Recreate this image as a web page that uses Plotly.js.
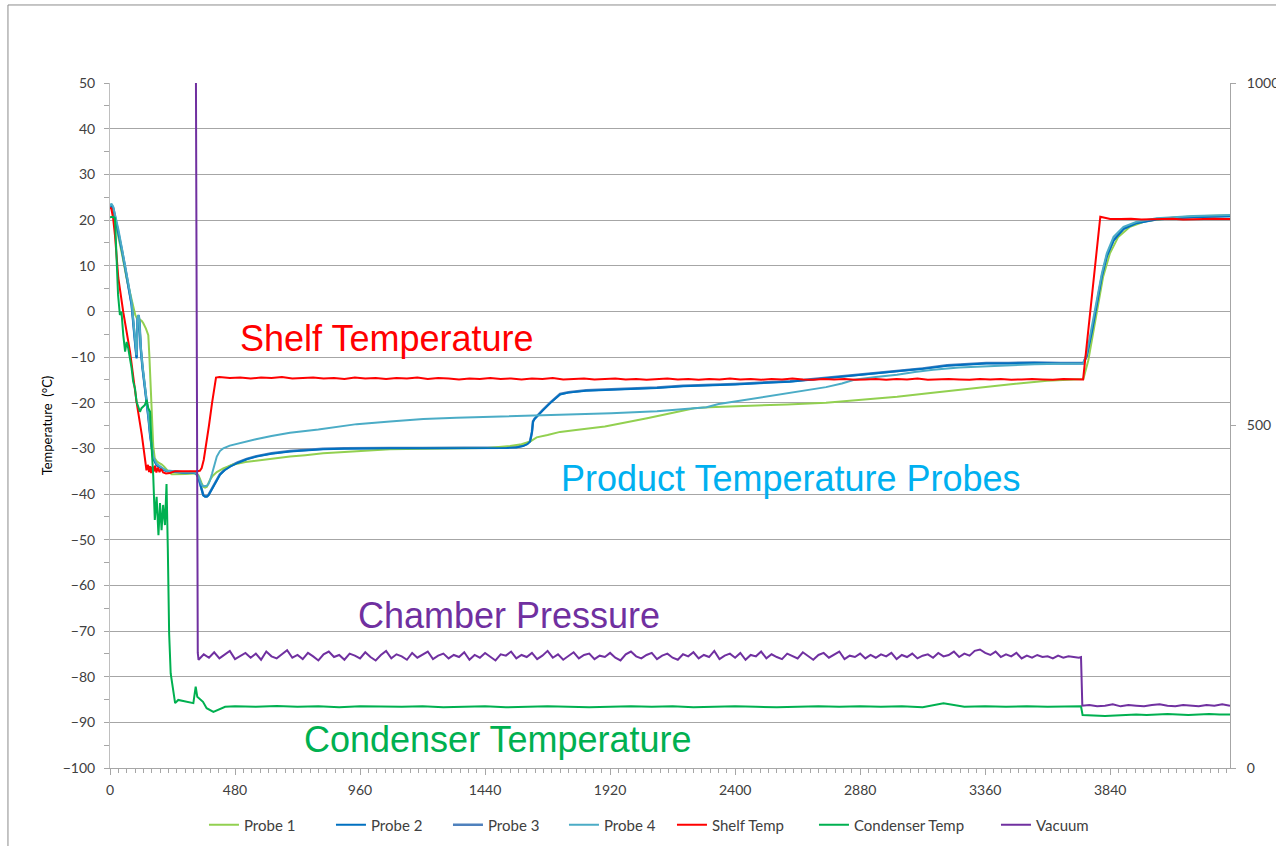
<!DOCTYPE html>
<html>
<head>
<meta charset="utf-8">
<script src="https://cdn.plot.ly/plotly-3.0.1.min.js"></script>
<style>
html,body{margin:0;padding:0;background:#fff;}
#chart{width:1276px;height:846px;}
</style>
</head>
<body>
<div id="chart"></div>
<script>
// ---------- DATA (time in minutes, temperatures in °C, vacuum in mTorr) ----------
const seriesNames = ["Probe 1","Probe 2","Probe 3","Probe 4","Shelf Temp","Condenser Temp","Vacuum"];
const xTickVals = [0,480,960,1440,1920,2400,2880,3360,3840];
const yTickVals = [50,40,30,20,10,0,-10,-20,-30,-40,-50,-60,-70,-80,-90,-100];
const y2TickVals = [0,500,1000];

const probe1Time = [0,6,15,32,48,64,78,90,97,103,110,115,122,128,138,147,151,154,157,160,163,166,172,179,188,198,208,218,228,237,250,269,290,320,330,340,346,352,358,365,372,378,384,395,410,435,470,520,563,620,691,750,818,900,947,1075,1200,1331,1450,1536,1580,1613,1625,1638,1680,1728,1789,1900,2062,2150,2243,2300,2473,2600,2749,2880,3022,3150,3299,3450,3598,3680,3737,3756,3775,3794,3813,3839,3871,3916,3980,4095,4200,4300];
const probe1Temp = [22.5,22.9,21.0,16.7,12.0,7.2,3.5,0.3,-0.8,-1.5,-1.6,-1.8,-2.1,-2.6,-3.8,-5.2,-9.6,-13.5,-18.3,-22.5,-27.0,-29.5,-32.2,-32.8,-33.2,-33.5,-34.0,-34.7,-35.3,-35.7,-35.7,-35.6,-35.6,-35.5,-35.5,-35.9,-36.6,-37.6,-38.4,-38.6,-38.4,-37.6,-36.9,-36.0,-35.2,-34.4,-33.6,-33.0,-32.7,-32.2,-31.8,-31.5,-31.1,-30.8,-30.6,-30.2,-30.1,-30.0,-29.9,-29.5,-29.1,-28.5,-28.0,-27.6,-27.1,-26.4,-26.0,-25.2,-23.4,-22.3,-21.2,-21.0,-20.7,-20.4,-20.0,-19.4,-18.7,-17.9,-16.9,-16.0,-15.2,-15.0,-14.8,-10.7,-4.8,1.8,7.6,12.7,16.3,18.5,19.8,20.6,20.9,21.0];

const probe2Time = [0,5,12,20,32,45,58,70,83,96,102,106,110,113,118,125,133,141,148,154,160,166,179,192,205,218,230,250,269,290,310,330,340,346,352,358,365,372,378,384,392,400,410,422,440,461,490,525,563,620,691,750,818,900,1000,1075,1200,1331,1450,1523,1560,1586,1602,1613,1620,1624,1630,1638,1660,1690,1710,1728,1760,1828,1950,2100,2200,2400,2611,2700,2817,2900,3022,3120,3214,3300,3364,3450,3550,3650,3720,3737,3750,3770,3789,3808,3827,3853,3891,3942,4019,4100,4159,4230,4300];
const probe2Temp = [22.6,23.2,22.6,20.5,17.4,13.5,9.5,5.5,1.4,-6.7,-10.3,-1.5,-1.0,-2.3,-8.1,-12.5,-16.0,-19.8,-23.5,-27.1,-30.0,-32.2,-33.7,-34.3,-34.7,-35.0,-35.1,-35.3,-35.3,-35.4,-35.3,-35.5,-36.5,-37.8,-39.3,-40.3,-40.6,-40.6,-40.3,-39.7,-38.8,-37.9,-36.9,-35.8,-34.8,-34.0,-33.2,-32.4,-31.8,-31.2,-30.7,-30.4,-30.2,-30.1,-30.0,-30.0,-30.0,-30.0,-30.0,-29.9,-29.8,-29.5,-29.1,-28.5,-26.5,-24.2,-23.6,-23.1,-21.8,-20.1,-19.0,-18.2,-17.8,-17.4,-17.1,-16.8,-16.4,-16.0,-15.4,-14.9,-14.3,-13.8,-13.2,-12.6,-11.9,-11.6,-11.4,-11.4,-11.3,-11.4,-11.4,-11.4,-9.8,-4.5,1.5,7.5,12.0,15.5,18.0,19.3,20.1,20.4,20.6,20.7,20.8];

const probe3Time = [0,5,12,20,32,45,58,70,83,96,102,106,110,113,118,125,133,141,148,154,160,166,179,192,205,218,230,250,269,290,310,330,340,346,352,358,365,372,378,384,392,400,410,422,440,461,490,525,563,620,691,750,818,900,1000,1075,1200,1331,1450,1523,1560,1586,1602,1613,1620,1624,1630,1638,1660,1690,1710,1728,1760,1828,1950,2100,2200,2400,2611,2700,2817,2900,3022,3120,3214,3300,3364,3450,3550,3650,3720,3737,3750,3770,3789,3808,3827,3853,3891,3942,4019,4100,4159,4230,4300];
const probe3Temp = [22.7,23.3,22.7,20.6,17.5,13.6,9.6,5.6,1.5,-6.5,-10.1,-1.4,-0.9,-2.2,-8.0,-12.4,-15.9,-19.7,-23.4,-27.0,-29.9,-32.1,-33.6,-34.2,-34.6,-34.9,-35.0,-35.2,-35.2,-35.3,-35.2,-35.4,-36.4,-37.7,-39.2,-40.2,-40.5,-40.5,-40.2,-39.6,-38.7,-37.8,-36.8,-35.7,-34.7,-33.9,-33.1,-32.3,-31.7,-31.1,-30.6,-30.3,-30.1,-30.0,-29.9,-29.9,-29.9,-29.9,-29.9,-29.8,-29.7,-29.4,-29.0,-28.4,-26.4,-24.1,-23.5,-23.0,-21.7,-20.0,-18.9,-18.1,-17.7,-17.3,-17.0,-16.7,-16.3,-15.9,-15.3,-14.8,-14.2,-13.7,-13.1,-12.5,-11.8,-11.5,-11.3,-11.3,-11.2,-11.3,-11.3,-11.3,-9.7,-4.4,1.6,7.6,12.1,15.6,18.1,19.4,20.2,20.5,20.7,20.8,20.9];

const probe4Time = [0,5,12,20,32,45,58,70,83,96,102,106,110,113,118,125,133,141,148,154,160,166,179,192,205,218,230,250,269,290,310,330,340,346,352,358,365,372,378,384,392,400,410,422,435,460,499,560,620,691,800,947,1075,1203,1330,1459,1600,1728,1850,1924,2100,2227,2290,2337,2440,2542,2650,2749,2810,2857,2940,3022,3090,3160,3260,3364,3450,3550,3650,3720,3737,3750,3770,3789,3808,3827,3853,3891,3942,4019,4100,4159,4230,4300];
const probe4Temp = [23.0,23.6,23.0,21.0,18.0,14.0,10.2,6.2,2.0,-6.0,-9.6,-1.2,-0.8,-2.0,-7.6,-12.0,-15.5,-19.3,-23.0,-26.6,-29.6,-31.8,-33.4,-34.0,-34.5,-34.9,-35.0,-35.2,-35.2,-35.3,-35.2,-35.4,-36.2,-37.2,-38.0,-38.3,-38.3,-38.2,-37.8,-37.0,-35.5,-33.8,-31.8,-30.6,-30.0,-29.4,-28.8,-28.0,-27.3,-26.6,-25.9,-24.7,-24.1,-23.6,-23.3,-23.1,-22.9,-22.6,-22.4,-22.3,-21.9,-21.4,-21.0,-20.3,-19.4,-18.5,-17.5,-16.6,-15.8,-15.0,-14.4,-13.9,-13.3,-12.8,-12.3,-12.0,-11.8,-11.6,-11.5,-11.5,-11.4,-9.2,-3.4,2.5,8.3,12.7,16.3,18.5,19.6,20.4,20.7,20.9,21.0,21.1];

const shelfTime = [0,5,12,19,32,51,77,102,122,134,140,146,150,154,158,163,168,173,178,184,190,196,204,215,230,250,270,290,310,330,345,352,360,370,380,392,400,407,
 420,460,500,540,580,620,660,700,740,780,
 820,860,900,940,980,1020,1060,1100,1140,1180,
 1220,1260,1300,1340,1380,1420,1460,1500,1540,1580,
 1620,1660,1700,1740,1780,1820,1860,1900,1940,1980,
 2020,2060,2100,2140,2180,2220,2260,2300,2340,2380,
 2420,2460,2500,2540,2580,2620,2660,2700,2740,2780,
 2820,2860,2900,2940,2980,3020,3060,3100,3140,3180,
 3220,3260,3300,3340,3380,3420,3460,3500,3540,3580,
 3620,3660,3700,3736,3802,3815,3840,
 3880,3920,3960,4000,4040,4080,4120,4160,4200,4240,4280,4300];
const shelfTemp = [22.7,22.5,20.4,16.7,7.3,-0.2,-8.9,-19.9,-27.0,-32.5,-34.8,-33.6,-35.2,-33.9,-35.4,-34.0,-35.1,-33.8,-35.3,-34.2,-35.2,-34.5,-35.3,-35.5,-35.4,-35.0,-35.0,-35.1,-35.0,-35.0,-34.9,-34.3,-32.5,-29.0,-25.0,-20.0,-16.5,-14.5,
 -14.4,-14.6,-14.5,-14.7,-14.5,-14.6,-14.4,-14.7,-14.6,-14.5,
 -14.7,-14.6,-14.8,-14.5,-14.7,-14.6,-14.8,-14.6,-14.7,-14.5,
 -14.8,-14.6,-14.7,-14.9,-14.7,-14.8,-14.6,-14.8,-14.7,-14.9,
 -14.7,-14.8,-14.6,-14.9,-14.8,-14.7,-14.9,-14.8,-14.7,-14.9,
 -14.8,-15.0,-14.8,-14.7,-14.9,-14.8,-15.0,-14.8,-14.9,-14.7,
 -14.9,-14.8,-15.0,-14.8,-14.9,-14.7,-14.9,-15.0,-14.8,-14.9,
 -14.8,-15.0,-14.9,-14.8,-15.0,-14.8,-14.9,-14.7,-15.0,-14.9,
 -14.8,-14.9,-15.0,-14.8,-14.9,-14.8,-15.0,-14.9,-14.8,-14.9,
 -15.0,-14.8,-14.9,-14.9,20.7,20.5,20.2,
 20.2,20.3,20.1,20.2,20.2,20.3,20.1,20.2,20.2,20.3,20.2,20.2];

const condTime = [0,10,19,25,31,38,44,51,58,64,70,83,89,96,102,115,121,134,141,147,154,
 160,166,172,179,186,192,198,204,211,217,222,227,233,240,250,262,294,320,329,335,357,371,397,422,442,
 480,560,640,720,800,880,960,1040,1120,1200,1280,1360,1440,1520,1600,1680,1760,1840,1920,2000,
 2080,2160,2240,2320,2400,2480,2560,2640,2720,2800,2880,2960,3040,3120,3200,3280,3360,3440,3520,3600,3680,
 3728,3734,3780,3820,3860,3900,3940,3980,4020,4060,4100,4140,4180,4220,4260,4300];
const condTemp = [20.6,20.7,20.4,10.9,3.6,-0.8,-0.1,-5.2,-8.8,-6.7,-8.1,-12.5,-15.4,-16.9,-19.8,-22.0,-21.2,-20.5,-19.4,-21.2,-22.0,
 -30.0,-36.0,-45.7,-40.6,-49.0,-42.0,-47.9,-42.4,-46.8,-37.8,-52.0,-70.5,-79.3,-82.2,-85.8,-85.1,-85.5,-85.8,-82.2,-84.4,-85.5,-86.9,-87.7,-87.1,-86.6,
 -86.5,-86.6,-86.4,-86.6,-86.5,-86.7,-86.5,-86.6,-86.6,-86.5,-86.7,-86.6,-86.5,-86.7,-86.6,-86.5,-86.6,-86.7,-86.6,-86.5,
 -86.6,-86.5,-86.7,-86.6,-86.5,-86.6,-86.7,-86.6,-86.5,-86.6,-86.5,-86.6,-86.5,-86.7,-85.8,-86.6,-86.5,-86.6,-86.5,-86.6,-86.5,
 -86.5,-88.4,-88.5,-88.6,-88.5,-88.4,-88.3,-88.4,-88.3,-88.2,-88.3,-88.4,-88.3,-88.2,-88.3,-88.3];

const vacTime = [0,328,330,337,
 340,360,380,400,420,440,460,480,500,520,540,560,580,600,620,640,660,680,700,720,740,760,780,800,820,840,860,880,900,920,940,960,980,1000,1020,1040,1060,1080,1100,1120,1140,1160,1180,1200,1220,1240,1260,1280,1300,1320,1340,1360,1380,1400,1420,1440,1460,1480,1500,1520,1540,1560,1580,1600,1620,1640,1660,1680,1700,1720,1740,1760,1780,1800,1820,1840,1860,1880,1900,1920,1940,1960,1980,2000,2020,2040,2060,2080,2100,2120,2140,2160,2180,2200,2220,2240,2260,2280,2300,2320,2340,2360,2380,2400,2420,2440,2460,2480,2500,2520,2540,2560,2580,2600,2620,2640,2660,2680,2700,2720,2740,2760,2780,2800,2820,2840,2860,2880,2900,2920,2940,2960,2980,3000,3020,3040,3060,3080,3100,3120,3140,3160,3180,3200,3220,3240,3260,3280,3300,3320,3340,3360,3380,3400,3420,3440,3460,3480,3500,3520,3540,3560,3580,3600,3620,3640,3660,3680,3700,3720,
 3728,3733,3760,3790,3820,3850,3880,3910,3940,3970,4000,4030,4060,4090,4120,4150,4180,4210,4240,4270,4300];
const vacValue = [1300,1300,1000,168,
 158,166,161,169,160,165,171,159,164,168,
 161,167,158,170,163,160,166,172,161,165,
 159,168,163,157,166,170,162,165,158,167,
 164,160,169,162,157,165,171,160,166,163,
 158,168,161,166,170,159,164,167,160,165,
 162,169,158,165,161,168,163,157,166,164,
 170,160,165,162,168,159,164,171,161,166,
 158,163,169,160,165,167,159,164,162,168,
 161,157,166,170,163,160,165,168,159,164,
 167,161,158,166,163,169,160,165,162,171,
 159,164,167,161,168,158,165,163,170,160,
 166,162,159,167,164,160,169,163,158,165,
 168,161,166,170,159,164,162,167,160,165,
 161,166,163,168,159,165,162,167,160,164,
 166,161,168,163,165,170,162,167,164,171,
 173,168,165,170,162,166,163,168,160,164,
 161,165,162,163,160,164,161,163,162,161,
 162,91,92,90,91,93,90,92,91,90,92,93,91,90,92,91,90,92,91,93,91];

// legend entry widths (px)
const legendWidths = [82, 72, 71, 63, 97, 137, 60];

// ---------- TRACES ----------
const font = "Lato, 'Open Sans', sans-serif";
function line(idx, x, y, color, width, axis) {
  return {type: "scatter", mode: "lines", name: seriesNames[idx], x: x, y: y, yaxis: axis || "y",
          line: {color: color, width: width}, legendrank: idx + 1, legendwidth: legendWidths[idx],
          hoverinfo: "skip"};
}
const data = [
  line(2, probe3Time, probe3Temp, "#4F81BD", 2.5),
  line(0, probe1Time, probe1Temp, "#92D050", 2),
  line(1, probe2Time, probe2Temp, "#0070C0", 2),
  line(3, probe4Time, probe4Temp, "#4BACC6", 2),
  line(4, shelfTime, shelfTemp, "#FF0000", 2),
  line(5, condTime, condTemp, "#00B050", 2),
  line(6, vacTime, vacValue, "#7030A0", 2, "y2")
];

const annFont = "'Liberation Sans', Arial, sans-serif";
const layout = {
  width: 1276, height: 846,
  margin: {l: 110, r: 46, t: 83, b: 78},
  paper_bgcolor: "#ffffff", plot_bgcolor: "#ffffff",
  showlegend: true,
  legend: {orientation: "h", xref: "paper", x: 0.0839, xanchor: "left",
           yref: "container", y: 0.0248, yanchor: "middle",
           font: {family: font, size: 15, color: "#404040"}, itemwidth: 30, traceorder: "normal"},
  xaxis: {range: [0, 4300], tickvals: xTickVals, ticks: "outside", ticklen: 6, tickcolor: "#A6A6A6",
          showline: true, linecolor: "#A6A6A6", linewidth: 1, showgrid: false, zeroline: false, automargin: false,
          tickfont: {family: font, size: 14, color: "#404040"}, ticklabelstandoff: 3,
          minor: {dtick: 32, tick0: 0, ticks: "outside", ticklen: 4, tickcolor: "#A6A6A6", showgrid: false}},
  yaxis: {range: [-100, 50], tickvals: yTickVals, ticks: "outside", ticklen: 5, tickcolor: "#A6A6A6",
          showline: true, linecolor: "#BFBFBF", linewidth: 1, showgrid: true, gridcolor: "#A6A6A6", gridwidth: 1,
          zeroline: false, automargin: false, tickfont: {family: font, size: 14, color: "#404040"}, ticklabelstandoff: 6,
          minor: {dtick: 5, tick0: 0, ticks: "outside", ticklen: 5, tickcolor: "#A6A6A6", showgrid: false},
          title: {text: "Temperature  (°C)", font: {family: font, size: 13, color: "#000000"}, standoff: 7}},
  yaxis2: {range: [0, 1000], tickvals: y2TickVals, overlaying: "y", side: "right", ticks: "outside", ticklen: 5,
           tickcolor: "#A6A6A6", showline: true, linecolor: "#A6A6A6", linewidth: 1, showgrid: false, zeroline: false,
           automargin: false, tickfont: {family: font, size: 14, color: "#404040"}, ticklabelstandoff: 8},
  annotations: [
    {text: "Shelf Temperature", xref: "paper", yref: "paper", x: 0.2469, y: 0.6263, xanchor: "center", yanchor: "middle",
     showarrow: false, font: {family: annFont, size: 36, color: "#FF0000"}},
    {text: "Product Temperature Probes", xref: "paper", yref: "paper", x: 0.608, y: 0.4219, xanchor: "center", yanchor: "middle",
     showarrow: false, font: {family: annFont, size: 36, color: "#00B0F0"}},
    {text: "Chamber Pressure", xref: "paper", yref: "paper", x: 0.3563, y: 0.2219, xanchor: "center", yanchor: "middle",
     showarrow: false, font: {family: annFont, size: 36, color: "#7030A0"}},
    {text: "Condenser Temperature", xref: "paper", yref: "paper", x: 0.346, y: 0.0409, xanchor: "center", yanchor: "middle",
     showarrow: false, font: {family: annFont, size: 36, color: "#00B050"}}
  ],
  shapes: [
    {type: "rect", xref: "paper", yref: "paper", x0: -0.0911, x1: 1.3, y0: -0.3, y1: 1.1139,
     line: {color: "#8C8C8C", width: 1}, fillcolor: "rgba(0,0,0,0)", layer: "below"}
  ]
};

Plotly.newPlot("chart", data, layout, {staticPlot: true, displayModeBar: false});
</script>
</body>
</html>
